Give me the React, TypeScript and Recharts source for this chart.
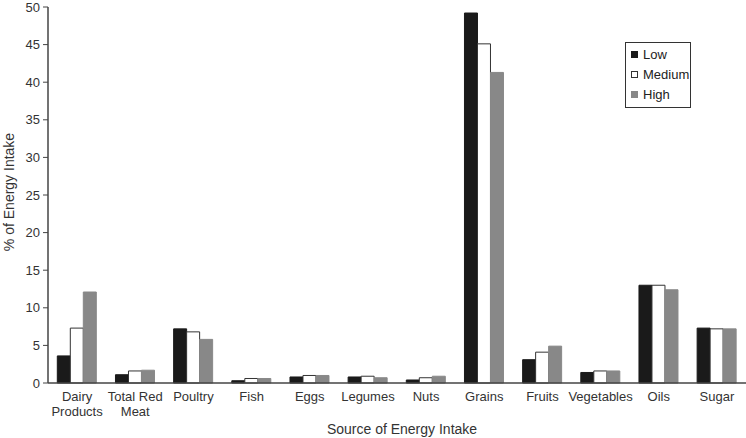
import React from "react";
import {
  BarChart,
  Bar,
  XAxis,
  YAxis,
  Legend,
  Label,
} from "recharts";

const categories = [
  "Dairy Products",
  "Total Red Meat",
  "Poultry",
  "Fish",
  "Eggs",
  "Legumes",
  "Nuts",
  "Grains",
  "Fruits",
  "Vegetables",
  "Oils",
  "Sugar",
];

// tick labels split over lines as in the original figure
const tickLines: Record<string, string[]> = {
  "Dairy Products": ["Dairy", "Products"],
  "Total Red Meat": ["Total Red", "Meat"],
};

const lowValues = [3.6, 1.1, 7.2, 0.3, 0.8, 0.8, 0.4, 49.2, 3.1, 1.4, 13.0, 7.3];
const mediumValues = [7.3, 1.6, 6.8, 0.6, 1.0, 0.9, 0.7, 45.1, 4.1, 1.6, 13.0, 7.2];
const highValues = [12.1, 1.7, 5.8, 0.6, 1.0, 0.7, 0.9, 41.3, 4.9, 1.6, 12.4, 7.2];

const yTicks = [0, 5, 10, 15, 20, 25, 30, 35, 40, 45, 50];

const data = categories.map((name, i) => ({
  name,
  low: lowValues[i],
  medium: mediumValues[i],
  high: highValues[i],
}));

const FONT = "'Liberation Sans', Arial, sans-serif";
const TEXT = "#333";
const AXIS = "#444";

const legendItems = [
  { label: "Low", fill: "#1a1a1a", stroke: "#1a1a1a" },
  { label: "Medium", fill: "#fff", stroke: "#333" },
  { label: "High", fill: "#888", stroke: "#888" },
];

const CategoryTick = (props: any) => {
  const { x, y, payload } = props;
  const lines = tickLines[payload.value] || [payload.value];
  return (
    <text
      x={x}
      y={y}
      textAnchor="middle"
      fill={TEXT}
      fontSize={13}
      fontFamily={FONT}
    >
      {lines.map((line, i) => (
        <tspan key={line} x={x} dy={i === 0 ? 10 : 15}>
          {line}
        </tspan>
      ))}
    </text>
  );
};

const LegendBox = () => (
  <div
    style={{
      border: "1px solid #333",
      width: 66,
      height: 66,
      boxSizing: "border-box",
      padding: "1px 0 0 5px",
      fontFamily: FONT,
      fontSize: 13,
      color: "#222",
      background: "#fff",
    }}
  >
    {legendItems.map((item) => (
      <div
        key={item.label}
        style={{ display: "flex", alignItems: "center", height: 20 }}
      >
        <span
          style={{
            display: "inline-block",
            width: 5,
            height: 5,
            background: item.fill,
            border: `1px solid ${item.stroke}`,
            marginRight: 5,
          }}
        />
        {item.label}
      </div>
    ))}
  </div>
);

const App = () => {
  return (
    <div style={{ position: "absolute", left: 0, top: 0 }}>
      <BarChart
        width={746}
        height={438}
        data={data}
        margin={{ top: 7, right: 0, left: 0, bottom: 0 }}
        barCategoryGap="16%"
        barGap={0}
      >
        <XAxis
          dataKey="name"
          tickLine={false}
          axisLine={{ stroke: AXIS, strokeWidth: 1.5 }}
          tick={<CategoryTick />}
          interval={0}
          height={55}
        >
          <Label
            value="Source of Energy Intake"
            position="insideBottom"
            offset={4}
            style={{ fontFamily: FONT, fontSize: 14, fill: TEXT }}
            dx={5}
          />
        </XAxis>
        <YAxis
          width={48}
          domain={[0, 50]}
          ticks={yTicks}
          tickSize={5}
          tickMargin={3}
          interval={0}
          axisLine={{ stroke: AXIS, strokeWidth: 1.5 }}
          tickLine={{ stroke: AXIS }}
          tick={{ fontFamily: FONT, fontSize: 13, fill: TEXT }}
        >
          <Label
            content={() => (
              <text
                x={14}
                y={192}
                transform="rotate(-90 14 192)"
                textAnchor="middle"
                fontFamily={FONT}
                fontSize={14}
                fill={TEXT}
              >
                % of Energy Intake
              </text>
            )}
          />
        </YAxis>
        <Legend
          layout="vertical"
          align="center"
          verticalAlign="middle"
          content={<LegendBox />}
          wrapperStyle={{ left: 625, top: 42, width: 66 }}
        />
        <Bar
          dataKey="low"
          name="Low"
          fill="#1a1a1a"
          stroke="#1a1a1a"
          isAnimationActive={false}
        />
        <Bar
          dataKey="medium"
          name="Medium"
          fill="#ffffff"
          stroke="#333"
          isAnimationActive={false}
        />
        <Bar
          dataKey="high"
          name="High"
          fill="#888888"
          stroke="#888888"
          isAnimationActive={false}
        />
      </BarChart>
    </div>
  );
};

export default App;
